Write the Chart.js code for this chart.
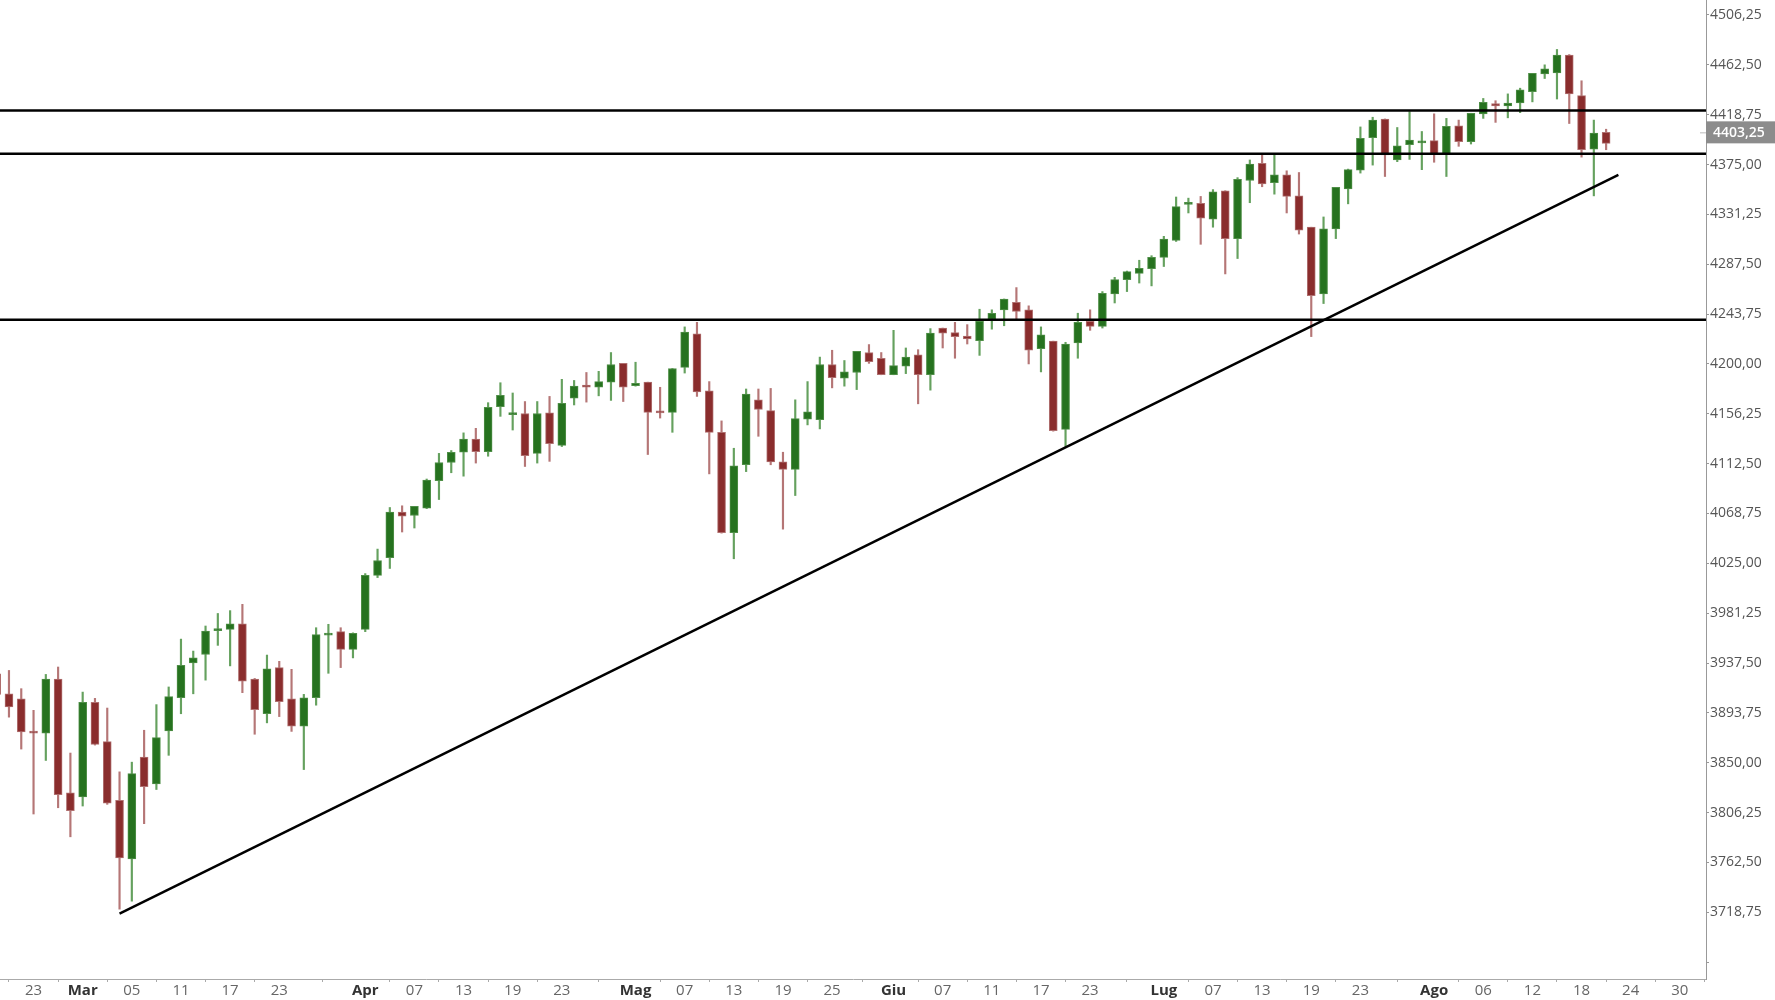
<!DOCTYPE html>
<html>
<head>
<meta charset="utf-8">
<script src="https://cdn.jsdelivr.net/npm/chart.js@4.4.1/dist/chart.umd.min.js"></script>
<style>
html, body { margin: 0; padding: 0; background: #fff; }
#wrap { width: 1775px; height: 1000px; }
</style>
</head>
<body>
<div id="wrap"><canvas id="chart" width="1775" height="1000"></canvas></div>
<script>
// prima candela: 18 feb 2021, una candela per giorno feriale
const firstDay = '2021-02-18';

const open = [
    3928, 3910.5, 3906, 3877.5, 3876, 3923.5, 3823.5,
    3820, 3903, 3868.5, 3817, 3765.5,
    3855, 3831.5, 3878, 3907, 3937.5,
    3945, 3966, 3967, 3972, 3923.5,
    3893, 3933.5, 3906, 3882, 3907,
    3962, 3965, 3949.5, 3967, 4014.5,
    4030, 4070, 4067, 4073.5, 4097.5,
    4113.5, 4122.5, 4134, 4123, 4162.5,
    4155.5, 4156.5, 4121.5, 4157, 4128.5,
    4170, 4181.5, 4179.5, 4184, 4200.5,
    4181, 4184, 4158, 4157.5, 4197,
    4226.5, 4176.5, 4140, 4052, 4111.5,
    4168.5, 4159, 4114, 4107.5, 4151.5,
    4151, 4199.5, 4187.5, 4192.5, 4210,
    4205, 4190.5, 4198, 4208, 4190.5,
    4231.5, 4227.5, 4224.5, 4220.5, 4239,
    4247.5, 4254, 4247.5, 4213.5, 4220,
    4142.5, 4218.5, 4237.5, 4233, 4261.5,
    4274, 4279.5, 4283.5, 4293.5, 4308.5,
    4340, 4341, 4327, 4352, 4310,
    4361, 4376, 4359, 4366, 4347.5,
    4320, 4261.5, 4318.5, 4353.5, 4370,
    4398.5, 4415, 4379, 4392.5, 4394,
    4396, 4384.5, 4409, 4395, 4419.5,
    4428.5, 4426.5, 4429, 4439, 4454.5,
    4455.5, 4471, 4435.5, 4388.5, 4403.25
];
const high = [
    3936, 3931, 3915, 3896, 3927.5, 3934, 3858.5,
    3912, 3906.5, 3898, 3842, 3850.5,
    3878.5, 3901, 3916.5, 3958.5, 3948,
    3970, 3981, 3983.5, 3989, 3924,
    3944.5, 3939, 3932, 3910, 3968.5,
    3971.5, 3968.5, 3964, 4016, 4037.5,
    4074, 4075.5, 4075, 4099, 4121.5,
    4124, 4139.5, 4143.5, 4166, 4183.5,
    4174.5, 4167, 4167, 4171.5, 4186.5,
    4185.5, 4192.5, 4193.5, 4210, 4200.5,
    4201.5, 4184, 4179.5, 4196, 4232.5,
    4236.5, 4184.5, 4150, 4126, 4178,
    4178, 4178.5, 4122.5, 4168.5, 4184.5,
    4206, 4212, 4203, 4211, 4217,
    4210, 4229.5, 4214, 4212.5, 4231,
    4231.5, 4236.5, 4234.5, 4248, 4247.5,
    4257, 4267, 4251, 4232.5, 4220,
    4219, 4244.5, 4247.5, 4263.5, 4276,
    4281.5, 4291, 4295, 4312, 4346.5,
    4345.5, 4347, 4353, 4352, 4363.5,
    4379, 4383.5, 4383.5, 4369.5, 4368,
    4320, 4329, 4355, 4371, 4408,
    4416.5, 4415, 4407.5, 4421.5, 4404,
    4419.5, 4415.5, 4414, 4420, 4433,
    4431, 4437, 4442, 4455, 4462.5,
    4476, 4471.5, 4448.5, 4414, 4406
];
const low = [
    3905, 3890, 3862, 3805, 3852, 3810.5, 3785,
    3812, 3865.5, 3813.5, 3721.5, 3728.5,
    3796.5, 3826.5, 3856.5, 3893, 3910.5,
    3922.5, 3953, 3935, 3911.5, 3875,
    3885, 3890.5, 3877.5, 3844, 3900.5,
    3928.5, 3933.5, 3942, 3965, 4012.5,
    4020.5, 4052.5, 4056, 4073, 4081,
    4104.5, 4101.5, 4113, 4119, 4154,
    4142, 4110, 4113, 4114.5, 4127.5,
    4164, 4166.5, 4172, 4168, 4167,
    4180.5, 4120.5, 4152.5, 4140, 4192,
    4171.5, 4103.5, 4051.5, 4029, 4105.5,
    4136.5, 4111.5, 4055, 4084.5, 4146.5,
    4143, 4179, 4180.5, 4177.5, 4200.5,
    4190.5, 4190.5, 4191.5, 4165, 4177,
    4214, 4205, 4217.5, 4207.5, 4230.5,
    4233.5, 4239, 4200, 4193, 4141,
    4127.5, 4205, 4229.5, 4231.5, 4253.5,
    4263.5, 4271, 4268.5, 4285.5, 4307.5,
    4332.5, 4305, 4320, 4279, 4292.5,
    4341.5, 4355.5, 4349, 4332.5, 4314,
    4224, 4253, 4310, 4340.5, 4367.5,
    4374.5, 4364.5, 4377.5, 4379.5, 4370.5,
    4377, 4364.5, 4391, 4393, 4415.5,
    4412, 4416, 4420.5, 4430, 4450.5,
    4432.5, 4411, 4381.5, 4347.5, 4388
];
const close = [
    3910, 3899, 3877, 3876, 3923.5, 3822, 3808,
    3903, 3866, 3814.5, 3766.5, 3840.5,
    3829, 3872, 3908, 3935.5, 3942,
    3965.5, 3967.25, 3972, 3921.5, 3896.5,
    3932.5, 3903.5, 3882, 3907, 3962.5,
    3963.5, 3949.5, 3963.5, 4014.5, 4027.5,
    4070, 4066.5, 4075, 4098, 4113.5,
    4122.5, 4134, 4123, 4162, 4172.5,
    4156.5, 4119.5, 4156.5, 4130, 4165.5,
    4180.5, 4179.5, 4184.5, 4199.5, 4179.5,
    4183, 4157.5, 4157, 4196, 4228,
    4175.5, 4140, 4052, 4110.5, 4173.5,
    4160, 4114, 4107.5, 4152, 4158,
    4199.5, 4188, 4193, 4211, 4202,
    4190.5, 4198.5, 4206, 4190.5, 4227,
    4227, 4224, 4222, 4237.5, 4244.5,
    4257, 4246, 4212, 4225.5, 4141.5,
    4217.5, 4236.5, 4233, 4262, 4274,
    4281, 4284, 4293.5, 4309.5, 4338,
    4341, 4328, 4351, 4310, 4362,
    4375.5, 4358, 4366, 4347, 4317.5,
    4260, 4318.5, 4355, 4370.5, 4398,
    4414, 4383.5, 4391.5, 4396.5, 4395,
    4384, 4408.5, 4395, 4420, 4429.5,
    4426.5, 4429, 4440.5, 4455, 4459,
    4471, 4437, 4388, 4402.5, 4393.5
];

// livelli orizzontali e trendline
const levels = [4422.5, 4384.5, 4238.75];
const trendDates = ['2021-03-04', '2021-08-23'];
const trendValues = [3717.5, 4366];
const lastPrice = 4403.25;

// etichette asse x
const tickDates = [
    '2021-02-23', '2021-03-01', '2021-03-05', '2021-03-11', '2021-03-17', '2021-03-23',
    '2021-04-01', '2021-04-07', '2021-04-13', '2021-04-19', '2021-04-23',
    '2021-05-03', '2021-05-07', '2021-05-13', '2021-05-19', '2021-05-25',
    '2021-06-01', '2021-06-07', '2021-06-11', '2021-06-17', '2021-06-23',
    '2021-07-01', '2021-07-07', '2021-07-13', '2021-07-19', '2021-07-23',
    '2021-08-02', '2021-08-06', '2021-08-12', '2021-08-18', '2021-08-24', '2021-08-30'
];
const tickTexts = [
    '23', 'Mar', '05', '11', '17', '23',
    'Apr', '07', '13', '19', '23',
    'Mag', '07', '13', '19', '25',
    'Giu', '07', '11', '17', '23',
    'Lug', '07', '13', '19', '23',
    'Ago', '06', '12', '18', '24', '30'
];
const monthTexts = ['Mar', 'Apr', 'Mag', 'Giu', 'Lug', 'Ago'];

// etichette asse y
const yTicks = [
    3675, 3718.75, 3762.5, 3806.25, 3850, 3893.75, 3937.5, 3981.25, 4025, 4068.75,
    4112.5, 4156.25, 4200, 4243.75, 4287.5, 4331.25, 4375, 4418.75, 4462.5, 4506.25
];

// giorni feriali dell'asse
const days = [];
const d = new Date(firstDay + 'T12:00:00Z');
while (days.length < 145) {
    const wd = d.getUTCDay();
    if (wd !== 0 && wd !== 6) days.push(d.toISOString().slice(0, 10));
    d.setUTCDate(d.getUTCDate() + 1);
}

const UP = '#26721f', DOWN = '#8a2d2d';
const UP_BORDER = '#4f8f47', DOWN_BORDER = '#b07070';
const UP_WICK = 'rgba(50, 130, 40, 0.75)', DOWN_WICK = 'rgba(150, 60, 60, 0.7)';
const isUp = open.map((o, i) => close[i] >= o);

const fmt = v => v.toFixed(2).replace('.', ',');

function isMonthTick(c) {
    if (!c || !c.tick) return false;
    const k = tickDates.indexOf(days[c.tick.value]);
    return k >= 0 && monthTexts.includes(tickTexts[k]);
}

// niente padding automatico attorno all'area del grafico
function noPad(scale) {
    scale.paddingTop = 0;
    scale.paddingBottom = 0;
    scale.paddingLeft = 0;
    scale.paddingRight = 0;
}

const levelLines = {
    id: 'levelLines',
    afterDatasetsDraw(chart) {
        const ctx = chart.ctx, area = chart.chartArea, y = chart.scales.y;
        ctx.save();
        ctx.strokeStyle = '#000';
        ctx.lineWidth = 2.5;
        levels.forEach(v => {
            const py = y.getPixelForValue(v);
            ctx.beginPath();
            ctx.moveTo(area.left, py);
            ctx.lineTo(area.right, py);
            ctx.stroke();
        });
        ctx.restore();
    },
    afterDraw(chart) {
        const ctx = chart.ctx, area = chart.chartArea;
        const py = chart.scales.y.getPixelForValue(lastPrice);
        ctx.save();
        ctx.strokeStyle = '#bbb';
        ctx.lineWidth = 1;
        ctx.beginPath();
        ctx.moveTo(area.right - 6, py + 0.5);
        ctx.lineTo(area.right, py + 0.5);
        ctx.stroke();
        ctx.fillStyle = '#8c8c8c';
        ctx.fillRect(area.right, py - 11, chart.width - area.right, 22);
        ctx.fillStyle = '#fff';
        ctx.font = "600 14px 'Open Sans'";
        ctx.textBaseline = 'middle';
        ctx.textAlign = 'left';
        ctx.fillText(fmt(lastPrice), area.right + 7, py + 1);
        ctx.restore();
    }
};

const ctx = document.getElementById('chart').getContext('2d');
const chart = new Chart(ctx, {
    type: 'bar',
    data: {
        datasets: [{
            label: 'corpo',
            data: open.map((o, i) => ({ x: i, y: [o, close[i]] })),
            backgroundColor: isUp.map(u => u ? UP : DOWN),
            borderColor: isUp.map(u => u ? UP_BORDER : DOWN_BORDER),
            borderWidth: 1,
            borderSkipped: false,
            barThickness: 8,
            minBarLength: 2,
            grouped: false,
            order: 1
        }, {
            label: 'ombra',
            data: low.map((l, i) => ({ x: i, y: [l, high[i]] })),
            backgroundColor: isUp.map(u => u ? UP_WICK : DOWN_WICK),
            borderWidth: 0,
            barThickness: 1.5,
            grouped: false,
            order: 2
        }, {
            type: 'line',
            label: 'trend',
            data: trendDates.map((t, i) => ({ x: days.indexOf(t), y: trendValues[i] })),
            borderColor: '#000',
            borderWidth: 2.5,
            pointRadius: 0,
            order: 0
        }]
    },
    options: {
        responsive: false,
        animation: false,
        devicePixelRatio: 1,
        layout: { padding: 0 },
        plugins: {
            legend: { display: false },
            tooltip: { enabled: false }
        },
        scales: {
            x: {
                type: 'linear',
                min: 0.27,
                max: 139.13,
                offset: false,
                afterBuildTicks: scale => {
                    scale.ticks = tickDates.map(t => ({ value: days.indexOf(t) }));
                },
                afterFit: scale => { scale.height = 21; noPad(scale); },
                grid: {
                    display: true,
                    drawOnChartArea: false,
                    color: '#aaa',
                    tickLength: 3
                },
                border: { color: '#aaa', width: 1 },
                ticks: {
                    autoSkip: false,
                    maxRotation: 0,
                    padding: 0,
                    callback: function(value) {
                        const k = tickDates.indexOf(days[value]);
                        return k >= 0 ? tickTexts[k] : '';
                    },
                    color: c => isMonthTick(c) ? '#333' : '#666',
                    font: c => ({
                        family: "'Liberation Sans Narrow', 'Open Sans', sans-serif",
                        size: 15,
                        weight: isMonthTick(c) ? 'bold' : 'normal'
                    })
                }
            },
            y: {
                position: 'right',
                min: 3660.2,
                max: 4519.4,
                afterBuildTicks: scale => {
                    scale.ticks = yTicks.map(v => ({ value: v }));
                },
                afterFit: scale => { scale.width = 69; noPad(scale); },
                grid: {
                    display: true,
                    drawOnChartArea: false,
                    color: '#999',
                    tickLength: 3
                },
                border: { color: '#999', width: 1 },
                ticks: {
                    padding: 1,
                    color: '#555',
                    font: { family: "'Open Sans', sans-serif", size: 14 },
                    callback: function(value, index) {
                        return index === 0 ? '' : fmt(value);
                    }
                }
            }
        }
    },
    plugins: [levelLines]
});
</script>
</body>
</html>
